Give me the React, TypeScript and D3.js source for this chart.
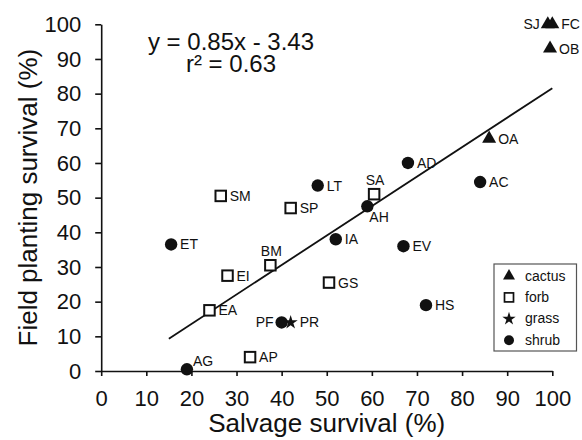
import { useEffect, useRef } from 'react';
import * as d3 from 'd3';

// species codes, salvage survival (%) and field planting survival (%)
const species = ['SJ', 'FC', 'OB', 'OA', 'AD', 'AC', 'LT', 'SA', 'AH', 'SM', 'SP', 'ET', 'BM', 'EI', 'IA', 'EV', 'GS', 'HS', 'EA', 'PF', 'PR', 'AG', 'AP'];
const salvage = [99, 100, 99.5, 86, 68, 84, 48, 60.5, 59, 26.5, 42, 15.5, 37.5, 28, 52, 67, 50.5, 72, 24, 40, 42, 19, 33];
const field = [100, 100, 93, 67, 60, 54.5, 53.5, 51, 47.5, 50.5, 47, 36.5, 30.5, 27.5, 38, 36, 25.5, 19, 17.5, 14, 14, 0.5, 4];
const growthForm = ['cactus', 'cactus', 'cactus', 'cactus', 'shrub', 'shrub', 'shrub', 'forb', 'shrub', 'forb', 'forb', 'shrub', 'forb', 'forb', 'shrub', 'shrub', 'forb', 'shrub', 'forb', 'shrub', 'grass', 'shrub', 'forb'];

// where the code sits next to its marker (default: right)
const labelSide: Record<string, string> = { SJ: 'left', PF: 'left', SA: 'above', BM: 'above', AH: 'below', AG: 'aboveRight' };

const forms = ['cactus', 'forb', 'grass', 'shrub'];
const xTicks = [0, 10, 20, 30, 40, 50, 60, 70, 80, 90, 100];
const yTicks = [0, 10, 20, 30, 40, 50, 60, 70, 80, 90, 100];

const slope = 0.85;
const intercept = -3.43;
const rSquared = 0.63;
const fitFrom = 15;
const fitTo = 100;

const W = 582;
const H = 440;
const FONT = '"Liberation Sans", Arial, Helvetica, sans-serif';
const INK = '#111';

const drawMarker = (g, form, big) => {
  if (form === 'cactus') {
    g.append('path').attr('d', d3.symbol(d3.symbolTriangle, big ? 85 : 62)()).attr('fill', INK);
  } else if (form === 'grass') {
    g.append('path').attr('d', d3.symbol(d3.symbolStar, big ? 62 : 55)()).attr('fill', INK);
  } else if (form === 'shrub') {
    g.append('circle').attr('r', big ? 6.2 : 5).attr('fill', INK);
  } else {
    const s = big ? 10.5 : 9;
    g.append('rect')
      .attr('x', -s / 2)
      .attr('y', -s / 2)
      .attr('width', s)
      .attr('height', s)
      .attr('fill', '#fff')
      .attr('stroke', INK)
      .attr('stroke-width', big ? 2 : 1.7);
  }
};

const App = () => {
  const svgRef = useRef(null);

  useEffect(() => {
    const svg = d3.select(svgRef.current);
    svg.selectAll('*').remove();

    const x = d3.scaleLinear().domain([0, 100]).range([101.2, 552.3]);
    const y = d3.scaleLinear().domain([0, 100]).range([371, 24.3]);

    // axes
    const xAxis = svg
      .append('g')
      .attr('transform', `translate(0,${y(0)})`)
      .call(d3.axisBottom(x).tickValues(xTicks).tickSize(5).tickSizeOuter(0).tickPadding(14));
    const yAxis = svg
      .append('g')
      .attr('transform', `translate(${x(0)},0)`)
      .call(d3.axisLeft(y).tickValues(yTicks).tickSize(6).tickSizeOuter(0).tickPadding(14));

    [xAxis, yAxis].forEach((a) => {
      a.select('.domain').attr('stroke', INK).attr('stroke-width', 1.6);
      a.selectAll('.tick line').attr('stroke', INK).attr('stroke-width', 1.6);
      a.selectAll('.tick text').attr('fill', INK).attr('font-size', 22).attr('font-family', FONT);
    });

    // regression line
    svg
      .append('line')
      .attr('x1', x(fitFrom))
      .attr('y1', y(slope * fitFrom + intercept))
      .attr('x2', x(fitTo))
      .attr('y2', y(slope * fitTo + intercept))
      .attr('stroke', INK)
      .attr('stroke-width', 1.8);

    // points and labels
    species.forEach((code, i) => {
      const px = x(salvage[i]);
      const py = y(field[i]);
      const g = svg.append('g').attr('transform', `translate(${px},${py})`);
      drawMarker(g, growthForm[i], true);

      const side = labelSide[code] || 'right';
      const t = svg
        .append('text')
        .text(code)
        .attr('font-family', FONT)
        .attr('font-size', 14)
        .attr('fill', INK);
      if (side === 'left') t.attr('x', px - 8).attr('y', py + 5).attr('text-anchor', 'end');
      else if (side === 'above') t.attr('x', px + 1).attr('y', py - 9).attr('text-anchor', 'middle');
      else if (side === 'below') t.attr('x', px + 2).attr('y', py + 16);
      else if (side === 'aboveRight') t.attr('x', px + 6).attr('y', py - 3);
      else t.attr('x', px + 9).attr('y', py + 5);
    });

    // equation
    const eq = svg
      .append('text')
      .attr('font-family', FONT)
      .attr('font-size', 24)
      .attr('fill', INK)
      .attr('text-anchor', 'middle');
    eq.append('tspan').attr('x', 231).attr('y', 50).text(`y = ${slope}x - ${Math.abs(intercept)}`);
    eq.append('tspan').attr('x', 231).attr('y', 72).text(`r² = ${rSquared}`);

    // legend
    const leg = svg.append('g').attr('transform', 'translate(494,264)');
    leg
      .append('rect')
      .attr('width', 82.5)
      .attr('height', 87)
      .attr('fill', '#fff')
      .attr('stroke', '#555')
      .attr('stroke-width', 1.2);
    forms.forEach((f, i) => {
      const row = leg.append('g').attr('transform', `translate(15,${12 + i * 21.4})`);
      drawMarker(row, f, false);
      row
        .append('text')
        .attr('x', 16)
        .attr('y', 4.5)
        .attr('font-family', FONT)
        .attr('font-size', 14)
        .attr('fill', INK)
        .text(f);
    });

    // axis titles
    svg
      .append('text')
      .attr('x', (x(0) + x(100)) / 2)
      .attr('y', 432)
      .attr('text-anchor', 'middle')
      .attr('font-family', FONT)
      .attr('font-size', 26)
      .attr('fill', INK)
      .text('Salvage survival (%)');
    svg
      .append('text')
      .attr('transform', `translate(37,${(y(0) + y(100)) / 2}) rotate(-90)`)
      .attr('text-anchor', 'middle')
      .attr('font-family', FONT)
      .attr('font-size', 26)
      .attr('fill', INK)
      .text('Field planting survival (%)');
  }, []);

  return (
    <svg
      ref={svgRef}
      width={W}
      height={H}
      style={{ position: 'absolute', left: 0, top: 0, background: '#fff' }}
    ></svg>
  );
};

export default App;
